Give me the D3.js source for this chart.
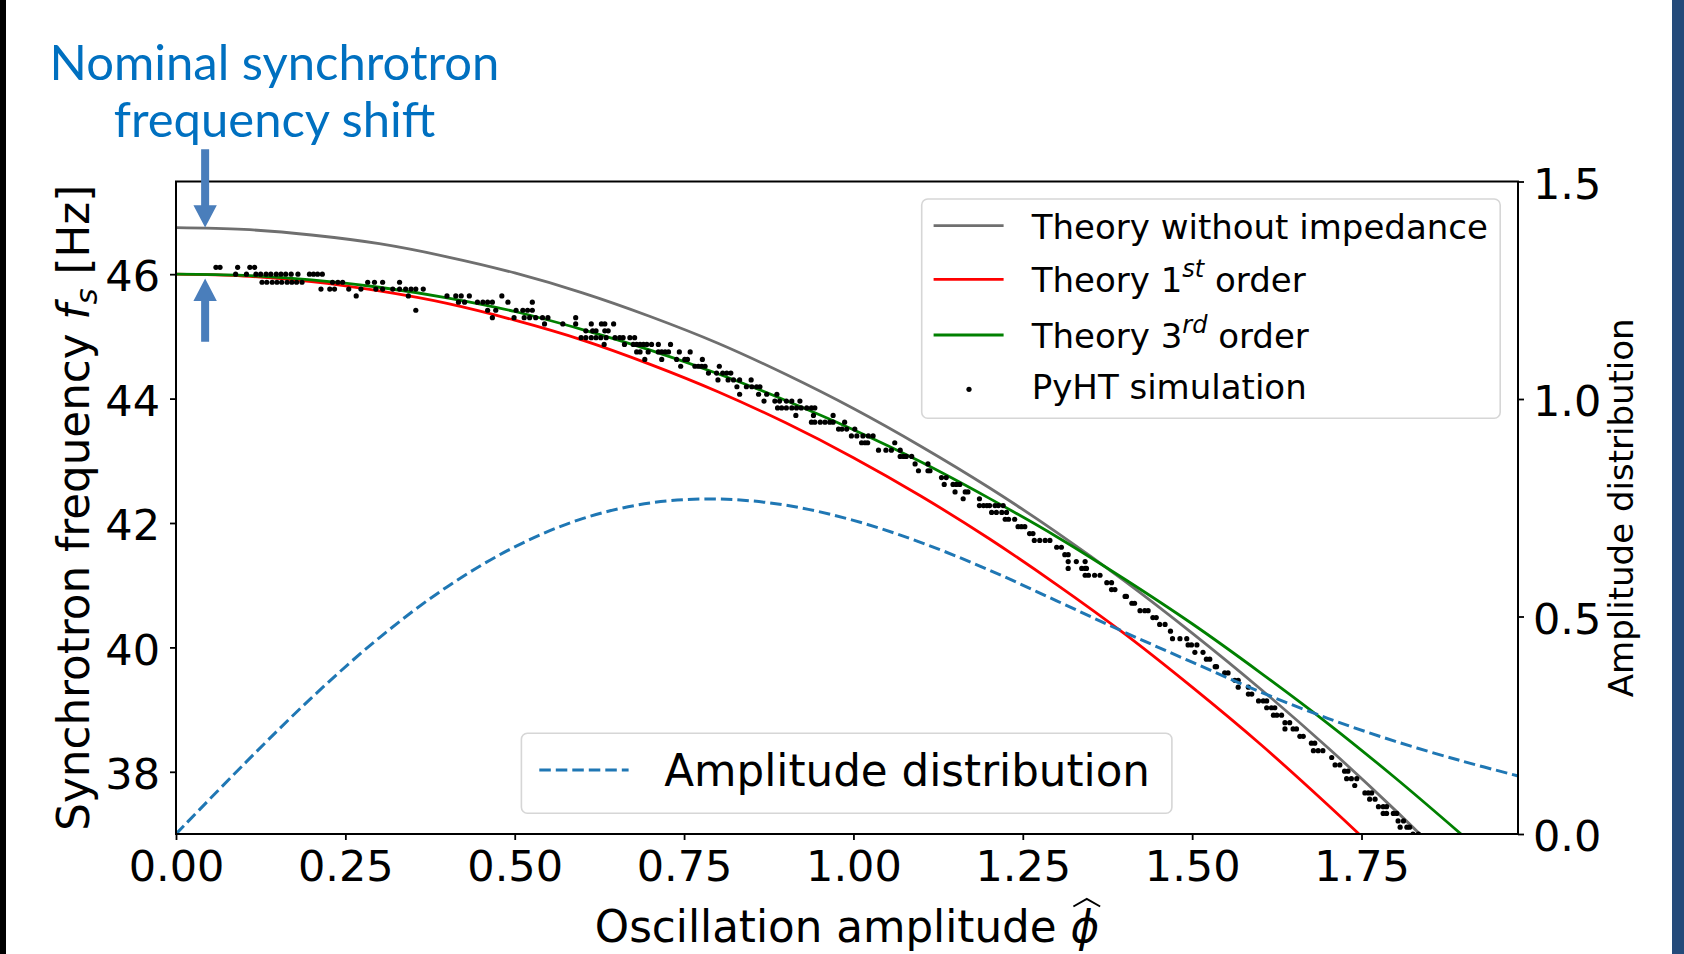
<!DOCTYPE html>
<html>
<head>
<meta charset="utf-8">
<script src="https://cdn.jsdelivr.net/npm/d3@7"></script>
<style>
  body { margin: 0; background: #fff; }
  svg { display: block; }
</style>
</head>
<body>
<svg id="chart"></svg>
<script>
// ---- data ----
const ampGrid = [0, 0.1, 0.2, 0.3, 0.4, 0.5, 0.6, 0.7, 0.8, 0.9, 1.0,
                 1.1, 1.2, 1.3, 1.4, 1.5, 1.6, 1.7, 1.8, 1.9];
const freqNoImpedance = [46.75, 46.72, 46.63, 46.49, 46.28, 46.02, 45.70, 45.32, 44.89, 44.39, 43.84,
                         43.23, 42.57, 41.85, 41.07, 40.23, 39.34, 38.39, 37.38, 36.31];
const freq1stOrder = [46.00, 45.97, 45.88, 45.73, 45.53, 45.26, 44.94, 44.55, 44.11, 43.61, 43.05,
                      42.43, 41.75, 41.01, 40.22, 39.36, 38.45, 37.47, 36.44, 35.35];
const freq3rdOrder = [46.00, 45.98, 45.91, 45.79, 45.62, 45.40, 45.11, 44.78, 44.40, 43.97, 43.50,
                      42.98, 42.40, 41.78, 41.10, 40.38, 39.60, 38.78, 37.90, 36.97];

const distAmp = [0, 0.1, 0.2, 0.3, 0.4, 0.5, 0.6, 0.7, 0.8, 0.9, 1.0,
                 1.1, 1.2, 1.3, 1.4, 1.5, 1.6, 1.7, 1.8, 1.9, 1.98];
const distValues = [0, 0.16, 0.313, 0.451, 0.568, 0.66, 0.725, 0.761, 0.77, 0.756, 0.721,
                    0.67, 0.607, 0.536, 0.464, 0.395, 0.327, 0.266, 0.213, 0.167, 0.134];

// PyHT simulation: frequency levels and the amplitudes found on each level
const simLevels = [46.11, 46.00, 45.87, 45.76, 45.65, 45.55, 45.42, 45.30, 45.20, 45.09, 44.98,
                   44.87, 44.75, 44.63, 44.52, 44.41, 44.30, 44.19, 44.07, 43.96, 43.85,
                   43.73, 43.62, 43.51, 43.40, 43.29, 43.17, 43.07, 42.95, 42.84, 42.73,
                   42.62, 42.50, 42.39, 42.28, 42.17, 42.06, 41.94, 41.83, 41.72, 41.61,
                   41.49, 41.38, 41.27, 41.16, 41.04, 40.93, 40.82, 40.71, 40.59, 40.48,
                   40.37, 40.26, 40.14, 40.04, 39.92, 39.81, 39.69, 39.59, 39.47, 39.36,
                   39.25, 39.14, 39.03, 38.91, 38.79, 38.69, 38.57, 38.46, 38.34, 38.23,
                   38.11, 38.01, 37.89, 37.78, 37.66, 37.56, 37.44, 37.33, 37.21, 37.11, 37.00];
const simAmps = [
  [0.059, 0.065, 0.091, 0.109, 0.116],
  [0.088, 0.104, 0.118, 0.125, 0.133, 0.140, 0.148, 0.155, 0.162, 0.170, 0.180, 0.197, 0.203, 0.209, 0.216],
  [0.127, 0.134, 0.142, 0.149, 0.156, 0.164, 0.171, 0.178, 0.186, 0.231, 0.239, 0.246, 0.283, 0.293, 0.305, 0.330],
  [0.214, 0.227, 0.234, 0.255, 0.273, 0.295, 0.305, 0.320, 0.330, 0.339, 0.347, 0.354, 0.365],
  [0.266, 0.343, 0.400, 0.413, 0.421, 0.433, 0.481],
  [0.417, 0.426, 0.445, 0.453, 0.460, 0.467, 0.490, 0.526],
  [0.354, 0.460, 0.472, 0.502, 0.512, 0.519, 0.526],
  [0.467, 0.499, 0.514, 0.522, 0.531, 0.541, 0.549, 0.590],
  [0.544, 0.571, 0.590, 0.613, 0.628, 0.633, 0.646],
  [0.605, 0.615, 0.620, 0.633, 0.638],
  [0.598, 0.605, 0.613, 0.620, 0.627, 0.635, 0.648, 0.655, 0.660, 0.670, 0.677],
  [0.632, 0.662, 0.675, 0.680, 0.685, 0.690, 0.695, 0.702, 0.712, 0.730],
  [0.680, 0.685, 0.697, 0.712, 0.717, 0.722, 0.727, 0.743, 0.759],
  [0.692, 0.717, 0.739, 0.751, 0.755, 0.777],
  [0.745, 0.766, 0.771, 0.776, 0.781, 0.802],
  [0.786, 0.798, 0.807, 0.813, 0.819],
  [0.800, 0.815, 0.823, 0.832, 0.849],
  [0.828, 0.842, 0.850, 0.857, 0.862],
  [0.832, 0.860, 0.872, 0.887],
  [0.868, 0.884, 0.891, 0.901, 0.909, 0.921],
  [0.888, 0.894, 0.901, 0.909, 0.916, 0.923, 0.931, 0.938, 0.943],
  [0.915, 0.941, 0.970],
  [0.938, 0.943, 0.951, 0.958, 0.965, 0.970, 0.987],
  [0.978, 0.983, 0.990, 1.002],
  [0.997, 1.005, 1.014, 1.022, 1.029],
  [1.012, 1.017, 1.021, 1.061],
  [1.037, 1.048, 1.056, 1.069],
  [1.069, 1.074, 1.078, 1.086],
  [1.091, 1.110],
  [1.096, 1.110, 1.113],
  [1.130, 1.137],
  [1.134, 1.147, 1.152, 1.157],
  [1.150, 1.165, 1.169],
  [1.162, 1.186],
  [1.186, 1.192, 1.197, 1.201, 1.209, 1.214, 1.221],
  [1.204, 1.211, 1.219, 1.226],
  [1.224, 1.229, 1.238],
  [1.243, 1.248, 1.253],
  [1.260, 1.265],
  [1.267, 1.275, 1.283, 1.290],
  [1.300, 1.307],
  [1.312, 1.317],
  [1.317, 1.329, 1.342],
  [1.317, 1.337, 1.342, 1.344],
  [1.342, 1.347, 1.356, 1.364],
  [1.374, 1.381],
  [1.381, 1.386],
  [1.401, 1.403],
  [1.411, 1.415],
  [1.423, 1.430, 1.435],
  [1.442, 1.447],
  [1.452, 1.460],
  [1.468],
  [1.471, 1.482, 1.492],
  [1.494, 1.499, 1.507],
  [1.504, 1.516],
  [1.521, 1.526],
  [1.534, 1.536],
  [1.548, 1.553],
  [1.563, 1.568],
  [1.568, 1.583],
  [1.583, 1.588],
  [1.598, 1.605, 1.610],
  [1.610, 1.617, 1.622],
  [1.620, 1.625, 1.632],
  [1.637, 1.644],
  [1.637, 1.649, 1.654],
  [1.659, 1.664],
  [1.676, 1.681],
  [1.679, 1.686, 1.693],
  [1.706],
  [1.711, 1.718],
  [1.725, 1.730],
  [1.728, 1.735, 1.743],
  [1.740],
  [1.755, 1.760, 1.765],
  [1.762, 1.770],
  [1.775, 1.782, 1.787],
  [1.782, 1.787, 1.797, 1.802],
  [1.804, 1.812],
  [1.807, 1.817, 1.821],
  [1.826, 1.834]
];

const ampTicks = [0, 0.25, 0.5, 0.75, 1.0, 1.25, 1.5, 1.75];
const freqTicks = [38, 40, 42, 44, 46];
const distTicks = [0, 0.5, 1.0, 1.5];

// nominal shift annotation: from f without impedance down to f with impedance
const shiftAmp = 0.043;
const shiftFreqs = [46.75, 46.00];

// ------------------------------------------------------
const FONT = "DejaVu Sans";
const svgWidth = 1684, svgHeight = 954;
const margin = { top: 181.5, right: 166, bottom: 120, left: 176 };
const width = svgWidth - margin.left - margin.right;
const height = svgHeight - margin.top - margin.bottom;

const svg = d3.select("#chart")
  .attr("width", svgWidth)
  .attr("height", svgHeight)
  .attr("font-family", FONT);

svg.append("rect").attr("width", svgWidth).attr("height", svgHeight).attr("fill", "#fff");
// slide edges
svg.append("rect").attr("x", 0).attr("y", 0).attr("width", 6).attr("height", svgHeight).attr("fill", "#000");
svg.append("rect").attr("x", 1672).attr("y", 0).attr("width", 12).attr("height", svgHeight).attr("fill", "#244a7a");

const g = svg.append("g")
  .attr("transform", "translate(" + margin.left + "," + margin.top + ")");

const x = d3.scaleLinear().domain([0, 1.981]).range([0, width]);
const y = d3.scaleLinear().domain([37.0, 47.49]).range([height, 0]);
const y2 = d3.scaleLinear().domain([0, 1.5]).range([height, 0]);

g.append("clipPath").attr("id", "plot-clip")
  .append("rect").attr("width", width).attr("height", height);

// axes
function styleAxis(sel, size) {
  sel.select(".domain").remove();
  sel.attr("font-family", FONT).attr("font-size", size);
  sel.selectAll("line").attr("stroke", "#000").attr("stroke-width", 1.8);
  sel.selectAll("text").attr("fill", "#000");
}

const gx = g.append("g")
  .attr("transform", "translate(0," + height + ")")
  .call(d3.axisBottom(x).tickValues(ampTicks).tickFormat(d3.format(".2f"))
    .tickSize(6).tickSizeOuter(0).tickPadding(10.5));
styleAxis(gx, 43);

const gy = g.append("g")
  .call(d3.axisLeft(y).tickValues(freqTicks).tickFormat(d3.format("d"))
    .tickSize(6).tickSizeOuter(0).tickPadding(10));
styleAxis(gy, 43);
gy.selectAll("text").attr("dy", "0.39em");

const gy2 = g.append("g")
  .attr("transform", "translate(" + width + ",0)")
  .call(d3.axisRight(y2).tickValues(distTicks).tickFormat(d3.format(".1f"))
    .tickSize(6).tickSizeOuter(0).tickPadding(9));
styleAxis(gy2, 43);
gy2.selectAll("text").attr("dy", "0.39em");

// curves
const plot = g.append("g").attr("clip-path", "url(#plot-clip)");

const line = d3.line()
  .x(function (d) { return x(d[0]) })
  .y(function (d) { return y(d[1]) })
  .curve(d3.curveCatmullRom);

const curves = [
  { values: freqNoImpedance, color: "#6f6f6f" },
  { values: freq1stOrder, color: "#ff0000" },
  { values: freq3rdOrder, color: "#008000" }
];
curves.forEach(function (c) {
  plot.append("path")
    .datum(ampGrid.map(function (a, i) { return [a, c.values[i]]; }))
    .attr("fill", "none")
    .attr("stroke", c.color)
    .attr("stroke-width", 2.8)
    .attr("d", line);
});

const simPoints = [];
simLevels.forEach(function (f, i) {
  simAmps[i].forEach(function (a) { simPoints.push([a, f]); });
});
plot.append("g").selectAll("circle")
  .data(simPoints)
  .join("circle")
  .attr("cx", function (d) { return x(d[0]) })
  .attr("cy", function (d) { return y(d[1]) })
  .attr("r", 2.6)
  .attr("fill", "#000");

const distLine = d3.line()
  .x(function (d) { return x(d[0]) })
  .y(function (d) { return y2(d[1]) })
  .curve(d3.curveCatmullRom);

plot.append("path")
  .datum(distAmp.map(function (a, i) { return [a, distValues[i]]; }))
  .attr("fill", "none")
  .attr("stroke", "#1f77b4")
  .attr("stroke-width", 3)
  .attr("stroke-dasharray", "11.5,5")
  .attr("d", distLine);

// frame
g.append("rect")
  .attr("width", width).attr("height", height)
  .attr("fill", "none").attr("stroke", "#000").attr("stroke-width", 2);

// axis labels
const xLabel = svg.append("text")
  .attr("x", 847).attr("y", 941.7)
  .attr("text-anchor", "middle")
  .attr("font-size", 43.6)
  .attr("fill", "#000");
xLabel.append("tspan").text("Oscillation amplitude ");
xLabel.append("tspan").attr("font-style", "italic").text("ϕ");
const labelStr = "Oscillation amplitude ϕ";
const phiBox = xLabel.node().getExtentOfChar(labelStr.length - 1);
svg.append("path")
  .attr("d", "M" + (phiBox.x + 3) + "," + 906.5 + "L" + (phiBox.x + phiBox.width / 2 + 2) + "," + 899 +
    "L" + (phiBox.x + phiBox.width + 1) + "," + 906.5)
  .attr("fill", "none").attr("stroke", "#000").attr("stroke-width", 2);

const yLabel = svg.append("text")
  .attr("transform", "translate(89," + (margin.top + height / 2) + ") rotate(-90)")
  .attr("text-anchor", "middle")
  .attr("font-size", 43.6)
  .attr("fill", "#000");
yLabel.append("tspan").text("Synchrotron frequency ");
yLabel.append("tspan").attr("font-style", "italic").text("f");
yLabel.append("tspan").attr("font-style", "italic").attr("font-size", 30.5).attr("dy", 8).text("s");
yLabel.append("tspan").attr("dy", -8).text(" [Hz]");

svg.append("text")
  .attr("transform", "translate(1633," + (margin.top + height / 2) + ") rotate(-90)")
  .attr("text-anchor", "middle")
  .attr("font-size", 34)
  .attr("fill", "#000")
  .text("Amplitude distribution");

// legend for frequencies
const legend = svg.append("g");
legend.append("rect")
  .attr("x", 921.7).attr("y", 199).attr("width", 578.5).attr("height", 219.3)
  .attr("rx", 6).attr("fill", "#fff").attr("fill-opacity", 0.85)
  .attr("stroke", "#d6d6d6").attr("stroke-width", 1.6);

const legendRows = [
  { y: 225.7, color: "#6f6f6f", parts: [["Theory without impedance"]] },
  { y: 279.3, color: "#ff0000", parts: [["Theory 1"], ["st", "sup"], [" order"]] },
  { y: 335.0, color: "#008000", parts: [["Theory 3"], ["rd", "sup"], [" order"]] },
  { y: 389.3, color: null, parts: [["PyHT simulation"]] }
];
legendRows.forEach(function (r) {
  if (r.color) {
    legend.append("line")
      .attr("x1", 933.6).attr("x2", 1003.6).attr("y1", r.y).attr("y2", r.y)
      .attr("stroke", r.color).attr("stroke-width", 2.8);
  } else {
    legend.append("circle").attr("cx", 969).attr("cy", r.y).attr("r", 2.6).attr("fill", "#000");
  }
  const t = legend.append("text")
    .attr("x", 1031.7).attr("y", r.y + (r.color ? 12.8 : 9.5))
    .attr("font-size", 34).attr("fill", "#000");
  let raised = false;
  r.parts.forEach(function (p) {
    const ts = t.append("tspan").text(p[0]);
    if (p[1] === "sup") {
      ts.attr("font-style", "italic").attr("font-size", 24).attr("dy", -15);
      raised = true;
    } else if (raised) {
      ts.attr("dy", 15);
      raised = false;
    }
  });
});

// legend for the distribution
const legend2 = svg.append("g");
legend2.append("rect")
  .attr("x", 521.4).attr("y", 733.3).attr("width", 650.5).attr("height", 80)
  .attr("rx", 6).attr("fill", "#fff").attr("fill-opacity", 0.85)
  .attr("stroke", "#d6d6d6").attr("stroke-width", 1.6);
legend2.append("line")
  .attr("x1", 539.3).attr("x2", 628.6).attr("y1", 770).attr("y2", 770)
  .attr("stroke", "#1f77b4").attr("stroke-width", 3).attr("stroke-dasharray", "11.5,5");
legend2.append("text")
  .attr("x", 664.3).attr("y", 786)
  .attr("font-size", 43.6).attr("fill", "#000")
  .text("Amplitude distribution");

// annotation
const note = svg.append("text")
  .attr("text-anchor", "middle")
  .attr("font-family", "Lato")
  .attr("fill", "#0070c0")
  .attr("font-size", 44);
note.append("tspan").attr("x", 274.5).attr("y", 80).text("Nominal synchrotron");
note.append("tspan").attr("x", 274.5).attr("y", 136.7).text("frequency shift");
const noteLen = note.select("tspan").node().getComputedTextLength();
note.attr("font-size", 44 * 450 / noteLen);

const arrowColor = "#4a7ebb";
const ax = margin.left + x(shiftAmp);
const tipDown = margin.top + y(shiftFreqs[0]);
const tipUp = margin.top + y(shiftFreqs[1]) + 4.3;
svg.append("path")
  .attr("d", "M" + (ax - 4) + ",149.3 H" + (ax + 4) + " V" + (tipDown - 22.3) +
    " H" + (ax + 11.7) + " L" + ax + "," + tipDown + " L" + (ax - 11.7) + "," + (tipDown - 22.3) +
    " H" + (ax - 4) + " Z")
  .attr("fill", arrowColor);
svg.append("path")
  .attr("d", "M" + (ax - 4) + ",341.7 H" + (ax + 4) + " V" + (tipUp + 22.4) +
    " H" + (ax + 11.7) + " L" + ax + "," + tipUp + " L" + (ax - 11.7) + "," + (tipUp + 22.4) +
    " H" + (ax - 4) + " Z")
  .attr("fill", arrowColor);
</script>
</body>
</html>
